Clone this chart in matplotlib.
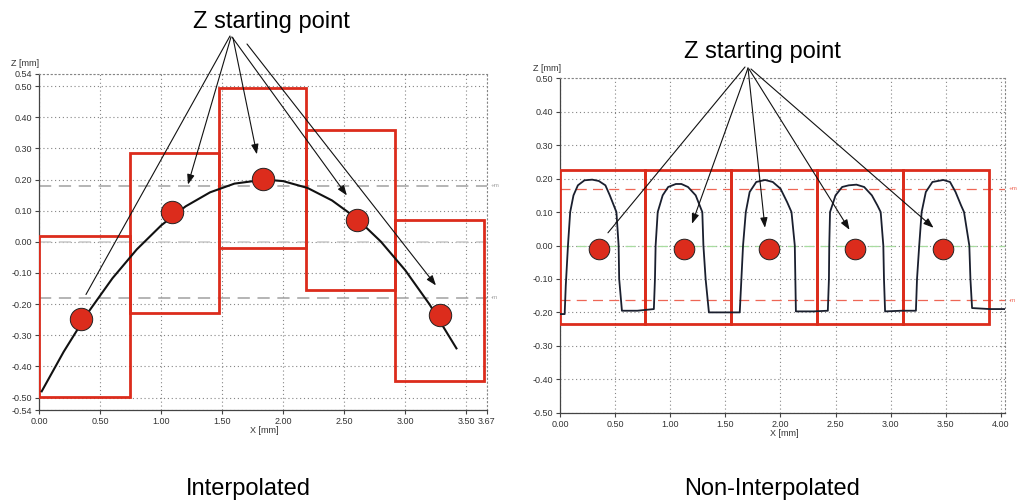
import matplotlib.pyplot as plt
from matplotlib.patches import Rectangle
from matplotlib.transforms import blended_transform_factory

plt.rcParams['font.family'] = ['Liberation Sans', 'DejaVu Sans']

# --- interpolated profile (left) ---
curve_x = [0.02, 0.20, 0.40, 0.60, 0.80, 1.00, 1.20, 1.40, 1.60, 1.85,
           2.00, 2.20, 2.40, 2.60, 2.80, 3.00, 3.20, 3.42]
curve_z = [-0.480, -0.353, -0.227, -0.117, -0.024, 0.053, 0.114, 0.159, 0.187, 0.200,
           0.195, 0.173, 0.133, 0.076, 0.001, -0.091, -0.201, -0.342]
interp_box_x0 = [0.00, 0.74, 1.47, 2.19, 2.92]
interp_box_x1 = [0.74, 1.47, 2.19, 2.92, 3.65]
interp_box_z0 = [-0.497, -0.230, -0.019, -0.156, -0.448]
interp_box_z1 = [0.018, 0.284, 0.495, 0.358, 0.069]
interp_start_x = [0.34, 1.085, 1.836, 2.607, 3.285]
interp_start_z = [-0.247, 0.096, 0.203, 0.069, -0.234]
interp_arrow_x = [0.383, 1.219, 1.784, 2.522, 3.252]
interp_arrow_z = [-0.169, 0.184, 0.281, 0.149, -0.140]
interp_tol = [0.18, -0.18]
interp_xticks = [0.00, 0.50, 1.00, 1.50, 2.00, 2.50, 3.00, 3.50, 3.67]
interp_yticks = [-0.54, -0.50, -0.40, -0.30, -0.20, -0.10, 0.00,
                 0.10, 0.20, 0.30, 0.40, 0.50, 0.54]

# --- measured profile (right) ---
profile_x = [0.00, 0.04, 0.05, 0.07, 0.09, 0.12, 0.16, 0.22, 0.29, 0.35, 0.41, 0.45, 0.51, 0.53, 0.535, 0.56, 0.70, 0.85,
             0.86, 0.866, 0.885, 0.93, 0.98, 1.05, 1.10, 1.16, 1.23, 1.29, 1.30, 1.32, 1.35, 1.50, 1.63,
             1.645, 1.66, 1.685, 1.72, 1.78, 1.86, 1.93, 2.00, 2.06, 2.10, 2.13, 2.135, 2.14, 2.30, 2.43,
             2.44, 2.443, 2.45, 2.50, 2.56, 2.62, 2.69, 2.76, 2.83, 2.88, 2.91, 2.934, 2.94, 2.95, 3.10, 3.23,
             3.24, 3.26, 3.282, 3.32, 3.38, 3.479, 3.54, 3.59, 3.64, 3.667, 3.715, 3.725, 3.74, 3.90, 4.04]
profile_z = [-0.205, -0.205, -0.12, 0.00, 0.10, 0.15, 0.18, 0.195, 0.197, 0.193, 0.18, 0.15, 0.10, 0.00, -0.10, -0.195, -0.195, -0.19,
             -0.10, 0.00, 0.10, 0.15, 0.175, 0.184, 0.184, 0.175, 0.15, 0.10, 0.00, -0.10, -0.20, -0.20, -0.20,
             -0.10, 0.00, 0.10, 0.16, 0.19, 0.196, 0.19, 0.17, 0.13, 0.10, 0.00, -0.10, -0.197, -0.197, -0.195,
             -0.10, 0.00, 0.10, 0.15, 0.175, 0.18, 0.182, 0.175, 0.15, 0.12, 0.10, 0.00, -0.10, -0.197, -0.195, -0.195,
             -0.10, 0.00, 0.10, 0.16, 0.19, 0.196, 0.19, 0.16, 0.12, 0.10, 0.00, -0.10, -0.187, -0.19, -0.19]
seg_x0 = [0.000, 0.772, 1.553, 2.329, 3.110]
seg_x1 = [0.772, 1.553, 2.329, 3.110, 3.897]
seg_z0 = [-0.234] * 5
seg_z1 = [0.225] * 5
meas_start_x = [0.349, 1.123, 1.895, 2.677, 3.473]
meas_start_z = [-0.010, -0.010, -0.010, -0.010, -0.010]
meas_arrow_x = [0.433, 1.196, 1.859, 2.627, 3.390]
meas_arrow_z = [0.038, 0.065, 0.053, 0.047, 0.053]
meas_tol = [0.169, -0.163]
meas_xticks = [0.00, 0.50, 1.00, 1.50, 2.00, 2.50, 3.00, 3.50, 4.00]
meas_yticks = [-0.50, -0.40, -0.30, -0.20, -0.10, 0.00, 0.10, 0.20, 0.30, 0.40, 0.50]

RED = '#dc2c1c'
GRID = '#858585'

fig = plt.figure(figsize=(10.17, 5.01), dpi=100)
ax1 = fig.add_axes([0.0386, 0.1816, 0.4402, 0.6713])
ax2 = fig.add_axes([0.5509, 0.1762, 0.4374, 0.6675])


def style_axes(ax, xlim, ylim, xticks, yticks):
    ax.set_xlim(*xlim)
    ax.set_ylim(*ylim)
    ax.set_xticks(xticks)
    ax.set_yticks(yticks)
    ax.set_xticklabels([f'{v:.2f}' for v in xticks])
    ax.set_yticklabels([f'{v:.2f}' for v in yticks])
    ax.tick_params(direction='out', length=3, width=0.8, color='#444444',
                   labelsize=6.5, labelcolor='#333333', pad=2)
    for s in ('left', 'bottom'):
        ax.spines[s].set_color('#444444')
        ax.spines[s].set_linewidth(0.9)
    for s in ('top', 'right'):
        ax.spines[s].set_color(GRID)
        ax.spines[s].set_linewidth(0.8)
        ax.spines[s].set_linestyle((0, (1, 2.5)))
    ax.grid(True, color=GRID, linestyle=(0, (1, 2.5)), linewidth=0.8)
    ax.set_axisbelow(True)
    ax.text(-0.062, 1.03, 'Z [mm]', transform=ax.transAxes, fontsize=6.5,
            color='#333333', ha='left', va='center')
    ax.text(0.503, -0.062, 'X [mm]', transform=ax.transAxes, fontsize=6.5,
            color='#333333', ha='center', va='center')


def tol_lines(ax, levels, color, zero_color, dashes, lw):
    ax.axhline(0.0, color=zero_color, linestyle=(0, dashes), linewidth=lw, zorder=1)
    trans = blended_transform_factory(ax.transAxes, ax.transData)
    for lvl, lab in zip(levels, ['+m', '-m']):
        ax.axhline(lvl, color=color, linestyle=(0, dashes), linewidth=lw, zorder=1)
        ax.text(1.008, lvl, lab, transform=trans, fontsize=4.5, color=color,
                ha='left', va='center', clip_on=False)


# left: interpolated
style_axes(ax1, (0, 3.67), (-0.54, 0.54), interp_xticks, interp_yticks)
tol_lines(ax1, interp_tol, '#a0a0a0', '#c8c8c8', (8, 5), 1.1)
for x0, x1, z0, z1 in zip(interp_box_x0, interp_box_x1, interp_box_z0, interp_box_z1):
    ax1.add_patch(Rectangle((x0, z0), x1 - x0, z1 - z0, fill=False,
                            edgecolor=RED, linewidth=2.0, zorder=3))
ax1.plot(curve_x, curve_z, color='#111111', linewidth=1.5, zorder=4)
ax1.scatter(interp_start_x, interp_start_z, s=260, color=RED,
            edgecolor='#222222', linewidth=0.7, zorder=5)

# right: not interpolated
style_axes(ax2, (0, 4.04), (-0.5, 0.5), meas_xticks, meas_yticks)
tol_lines(ax2, meas_tol, '#ee6655', '#a8dca0', (8, 5), 0.9)
for x0, x1, z0, z1 in zip(seg_x0, seg_x1, seg_z0, seg_z1):
    ax2.add_patch(Rectangle((x0, z0), x1 - x0, z1 - z0, fill=False,
                            edgecolor=RED, linewidth=2.0, zorder=3))
ax2.plot(profile_x, profile_z, color='#1a1f2e', linewidth=1.3, zorder=4)
ax2.scatter(meas_start_x, meas_start_z, s=220, color=RED,
            edgecolor='#222222', linewidth=0.7, zorder=5)

# callouts
fig.text(0.2665, 0.944, 'Z starting point', fontsize=17, ha='center', va='baseline')
fig.text(0.7497, 0.884, 'Z starting point', fontsize=17, ha='center', va='baseline')
fig.text(0.2440, 0.012, 'Interpolated', fontsize=17, ha='center', va='baseline')
fig.text(0.7590, 0.012, 'Non-Interpolated', fontsize=17, ha='center', va='baseline')

left_from = [(230, 465), (231, 464), (233, 463), (232, 464), (247, 457)]
right_from = [(745, 434), (748, 433), (748, 433), (749, 432), (751, 432)]
for ax, xs, zs, starts in ((ax1, interp_arrow_x, interp_arrow_z, left_from),
                           (ax2, meas_arrow_x, meas_arrow_z, right_from)):
    for i, (x, z, st) in enumerate(zip(xs, zs, starts)):
        style = '-' if i == 0 else '-|>,head_length=0.6,head_width=0.22'
        ax.annotate('', xy=(x, z), xycoords='data', xytext=st,
                    textcoords='figure pixels',
                    arrowprops=dict(arrowstyle=style, color='#111111',
                                    linewidth=0.8, shrinkA=0, shrinkB=0),
                    zorder=6, annotation_clip=False)

fig.savefig('out.png', dpi=100)
